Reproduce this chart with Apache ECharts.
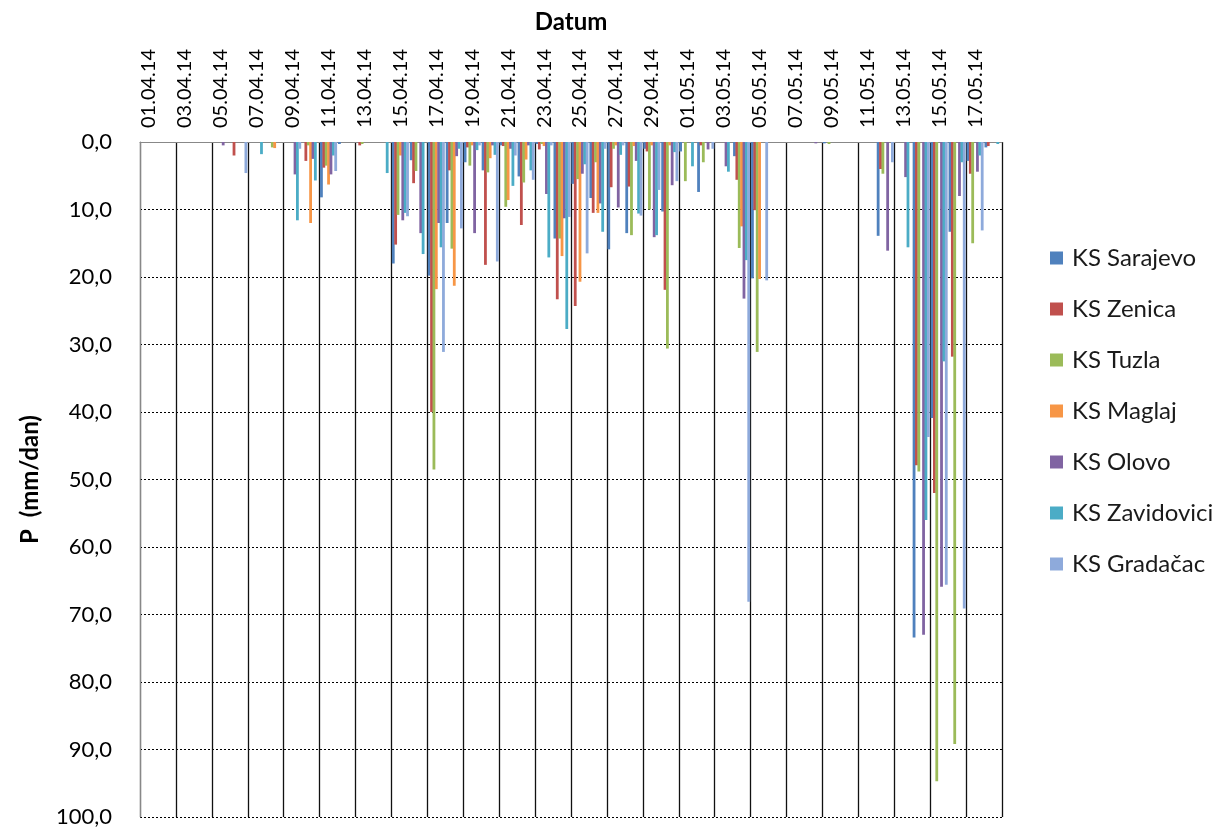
<!DOCTYPE html>
<html><head><meta charset="utf-8">
<script src="https://cdn.jsdelivr.net/npm/echarts@6/dist/echarts.min.js"></script>
<style>html,body{margin:0;padding:0;background:#fff}#c{width:1220px;height:829px}</style>
</head><body><div id="c"></div>
<script>
const dates = ["01.04.14","02.04.14","03.04.14","04.04.14","05.04.14","06.04.14","07.04.14","08.04.14","09.04.14","10.04.14",
"11.04.14","12.04.14","13.04.14","14.04.14","15.04.14","16.04.14","17.04.14","18.04.14","19.04.14","20.04.14",
"21.04.14","22.04.14","23.04.14","24.04.14","25.04.14","26.04.14","27.04.14","28.04.14","29.04.14","30.04.14",
"01.05.14","02.05.14","03.05.14","04.05.14","05.05.14","06.05.14","07.05.14","08.05.14","09.05.14","10.05.14",
"11.05.14","12.05.14","13.05.14","14.05.14","15.05.14","16.05.14","17.05.14","18.05.14"];
const seriesNames = ["KS Sarajevo","KS Zenica","KS Tuzla","KS Maglaj","KS Olovo","KS Zavidovici","KS Gradačac"];
const sarajevo = [0,0,0,0,0,0,0,0,0,0, 8.2,0.3,0,0,18.0,2.7,19.8,12.0,3.0,4.2, 0.5,5.1,0.3,14.3,6.2,8.3,15.9,13.5,1.0,10.3, 1.4,7.4,0,2.1,20.2,0,0,0,0.2,0, 0,13.9,0,73.4,40.9,13.3,2.8,0.8];
const zenica   = [0,0,0,0,0,2.0,0,0,0,2.8, 3.8,0,0.5,0,15.2,6.1,40.0,4.2,0.8,18.2, 0.6,12.3,1.1,23.3,24.3,10.5,6.7,6.6,1.4,21.9, 0,0.5,0,5.6,10.1,0,0,0,0,0, 0,4.0,0,47.9,52.0,31.8,4.7,0.6];
const tuzla    = [0,0,0,0,0,0,0,0.8,0,0.5, 3.5,0,0.3,0,10.8,4.3,48.5,15.8,3.5,4.5, 9.6,6.0,0.3,14.3,5.5,3.0,1.0,13.8,10.0,30.6, 5.8,3.0,0,15.7,31.1,0,0,0,0.3,0, 0,4.7,0,48.8,94.7,89.2,15.0,0];
const maglaj   = [0,0,0,0,0,0,0,0.9,0,12.0, 6.3,0,0,0,2.0,0,21.8,21.3,0.5,2.4, 8.6,2.6,0.6,16.9,20.7,10.5,0.5,0.6,0.5,0.5, 0,0,0,12.5,20.3,0,0,0,0,0, 0,0,0,0,0,0,0,0];
const olovo    = [0,0,0,0,0.5,0,0,0,4.8,2.5, 4.8,0,0,0,11.6,13.5,12.0,2.1,13.5,0.5, 1.0,0.5,7.7,11.3,4.7,9.1,9.7,2.8,14.1,6.4, 0,1.1,3.6,23.2,0,0,0,0.2,0,0, 0,16.1,5.2,73.0,65.9,8.0,4.4,0];
const zavidovici=[0,0,0,0,0,0,1.8,0,11.6,5.7, 2.0,0,0,4.6,10.5,16.6,15.6,1.0,1.2,1.9, 6.5,4.2,17.1,27.7,3.3,13.3,1.9,10.6,13.8,1.5, 3.6,0,4.4,17.5,0,0,0,0,0,0, 0,0,15.6,56.0,32.5,3.0,2.0,0.3];
const gradacac = [0,0,0,0,0,4.6,0,0,1.0,0, 4.3,0,0,0,11.0,0,31.1,12.8,0.5,17.7, 2.0,5.6,0.5,11.1,16.5,1.0,0.5,10.9,7.1,5.8, 0,1.0,0,68.1,20.5,0,0,0,0,0, 0,3.0,0,43.7,65.6,69.1,13.1,0];
const colors = ["#4F81BD","#C0504D","#9BBB59","#F79646","#8064A2","#4BACC6","#8EAADB"];
const allData = [sarajevo,zenica,tuzla,maglaj,olovo,zavidovici,gradacac];

const chart = echarts.init(document.getElementById('c'));
const FONT = 'Lato';
chart.setOption({
  animation:false,
  color: colors,
  textStyle:{fontFamily:FONT},
  grid:{left:140, top:142, width:862, height:675, containLabel:false},
  legend:{
    orient:'vertical', left:1045, top:241, itemWidth:13, itemHeight:13, itemGap:27,
    icon:'rect',
    textStyle:{fontFamily:FONT, fontSize:24, color:'#1a1a1a', lineHeight:24, padding:[0,0,0,4]},
    data: seriesNames
  },
  xAxis:{
    type:'category', position:'top', data:dates,
    name:'Datum', nameLocation:'middle', nameGap:108,
    nameTextStyle:{fontFamily:FONT, fontWeight:'bold', fontSize:24, color:'#000'},
    axisLine:{show:true, lineStyle:{color:'#888', width:1}},
    axisTick:{show:false},
    axisLabel:{interval:1, rotate:90, fontSize:20, color:'#000', margin:14, fontFamily:FONT},
    splitLine:{show:true, interval:1, lineStyle:{color:'#111', width:1.3, type:'solid'}}
  },
  yAxis:{
    type:'value', inverse:true, min:0, max:100, interval:10,
    name:'P  (mm/dan)', nameLocation:'middle', nameGap:98, nameRotate:90,
    nameTextStyle:{fontFamily:FONT, fontWeight:'bold', fontSize:24, color:'#000'},
    axisLine:{show:true, lineStyle:{color:'#888', width:1}},
    axisTick:{show:false},
    axisLabel:{fontSize:22, color:'#000', margin:28, fontFamily:FONT,
      formatter:function(v){return v.toFixed(1).replace('.',',');}},
    splitLine:{show:true, lineStyle:{color:'#000', width:1, type:[2,2]}}
  },
  series: seriesNames.map(function(n,i){
    return {name:n, type:'bar', data:allData[i], barGap:'-15%', barCategoryGap:'5%',
      itemStyle:{color:colors[i]}};
  })
});
</script></body></html>
